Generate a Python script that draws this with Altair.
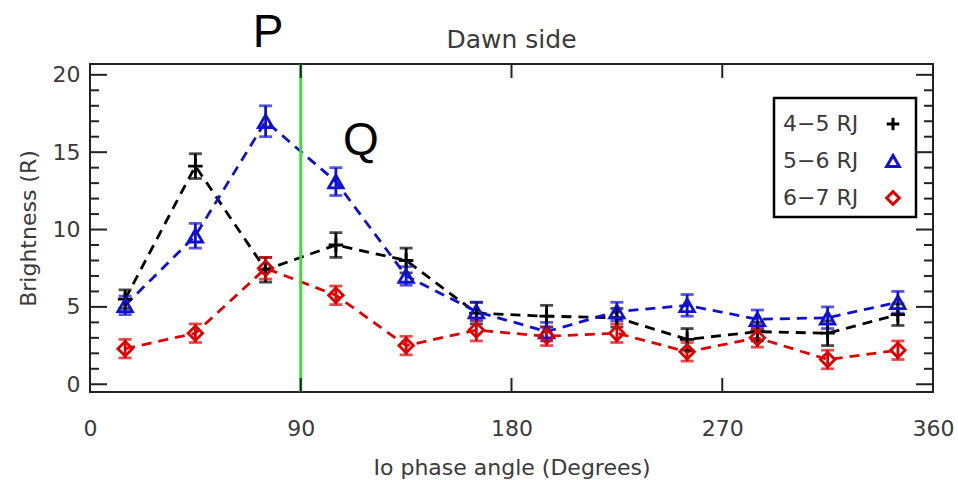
import altair as alt
import pandas as pd

# ---- data ----
angles = [15, 45, 75, 105, 135, 165, 195, 225, 255, 285, 315, 345]
series_names = ["4\u22125 RJ", "5\u22126 RJ", "6\u22127 RJ"]
b_45 = [5.5, 14.1, 7.4, 9.0, 8.0, 4.6, 4.4, 4.3, 2.9, 3.4, 3.3, 4.5]
e_45 = [0.6, 0.8, 0.8, 0.8, 0.8, 0.7, 0.7, 0.6, 0.7, 0.6, 0.8, 0.7]
b_56 = [5.1, 9.6, 17.0, 13.1, 7.0, 4.7, 3.4, 4.7, 5.1, 4.2, 4.3, 5.3]
e_56 = [0.6, 0.8, 1.0, 0.9, 0.6, 0.6, 0.6, 0.6, 0.7, 0.6, 0.7, 0.7]
b_67 = [2.3, 3.3, 7.5, 5.75, 2.5, 3.5, 3.1, 3.3, 2.1, 3.0, 1.6, 2.2]
e_67 = [0.6, 0.6, 0.7, 0.6, 0.6, 0.7, 0.6, 0.6, 0.6, 0.6, 0.6, 0.6]
x_ticks = [0, 90, 180, 270, 360]
y_ticks = [0, 5, 10, 15, 20]
y_minor = [v for v in range(0, 21) if v % 5 != 0]
x_inner_ticks = [90, 180, 270]
green_line_x = [90]

colors = ["#000000", "#1010d0", "#e00000"]
shapes = ["M-1,0H1M0,-1V1", "triangle-up", "diamond"]

rows = []
for name, vals, errs in zip(series_names, [b_45, b_56, b_67], [e_45, e_56, e_67]):
    for a, v, e in zip(angles, vals, errs):
        rows.append({"series": name, "angle": a, "value": v, "lo": v - e, "hi": v + e})
df = pd.DataFrame(rows)
caps = pd.concat([
    df[["series", "angle", "lo"]].rename(columns={"lo": "value"}),
    df[["series", "angle", "hi"]].rename(columns={"hi": "value"}),
])

W, H = 843, 328
FONT = "DejaVu Sans"
TXT = "#3a3a3a"

xscale = alt.Scale(domain=[0, 360], nice=False, zero=False)
yscale = alt.Scale(domain=[-0.5, 20.7], nice=False, zero=False)
cscale = alt.Scale(domain=series_names, range=colors)
sscale = alt.Scale(domain=series_names, range=shapes)

xaxis = alt.Axis(values=x_ticks, ticks=False, domain=False, grid=False, labelPadding=26,
                 labelFontSize=22, labelFont=FONT, labelColor=TXT, labelFlush=False,
                 title="Io phase angle (Degrees)", titleFont=FONT, titleFontSize=22,
                 titleFontWeight="normal", titleColor=TXT, titleX=W / 2, titleY=82,
                 titleBaseline="alphabetic", titleAnchor="middle")
yaxis = alt.Axis(values=y_ticks, ticks=False, domain=False, grid=False, labelPadding=10,
                 labelFontSize=22, labelFont=FONT, labelColor=TXT, labelFlush=False,
                 title="Brightness (R)", titleFont=FONT, titleFontSize=22,
                 titleFontWeight="normal", titleColor=TXT, titleX=-55, titleY=H / 2,
                 titleAngle=-90, titleBaseline="alphabetic", titleAlign="center")

def X(field):
    return alt.X(field, scale=xscale, axis=xaxis)

def Y(field):
    return alt.Y(field, scale=yscale, axis=yaxis)

base = alt.Chart(df)

lines = base.mark_line(strokeDash=[10, 7], strokeWidth=2.8).encode(
    x=X("angle:Q"), y=Y("value:Q"),
    color=alt.Color("series:N", scale=cscale, legend=None),
    detail="series:N",
)

bars = base.mark_rule(strokeWidth=2.8).encode(
    x=X("angle:Q"), y=Y("lo:Q"), y2="hi:Q",
    color=alt.Color("series:N", scale=cscale, legend=None),
)

cap_marks = alt.Chart(caps).mark_tick(orient="horizontal", size=13, thickness=2.8).encode(
    x=X("angle:Q"), y=Y("value:Q"),
    color=alt.Color("series:N", scale=cscale, legend=None),
)

points = base.mark_point(filled=False, strokeWidth=2.8, size=210, opacity=1).encode(
    x=X("angle:Q"), y=Y("value:Q"),
    color=alt.Color("series:N", scale=cscale, legend=None),
    shape=alt.Shape("series:N", scale=sscale, legend=None),
)

green = alt.Chart(pd.DataFrame({"x": green_line_x})).mark_rule(
    color="#3ddc3d", strokeWidth=3
).encode(x=X("x:Q"))

# frame ticks (inward)
ymaj = pd.DataFrame({"v": y_ticks})
ymin = pd.DataFrame({"v": y_minor})
xin = pd.DataFrame({"v": x_inner_ticks})
tick_style = dict(color="#222222", strokeWidth=2)
ticks = [
    alt.Chart(ymaj).mark_rule(**tick_style).encode(y=Y("v:Q"), x=alt.value(0), x2=alt.value(17)),
    alt.Chart(ymin).mark_rule(**tick_style).encode(y=Y("v:Q"), x=alt.value(0), x2=alt.value(9)),
    alt.Chart(ymaj).mark_rule(**tick_style).encode(y=Y("v:Q"), x=alt.value(W - 17), x2=alt.value(W)),
    alt.Chart(ymin).mark_rule(**tick_style).encode(y=Y("v:Q"), x=alt.value(W - 9), x2=alt.value(W)),
    alt.Chart(xin).mark_rule(**tick_style).encode(x=X("v:Q"), y=alt.value(H - 14), y2=alt.value(H)),
    alt.Chart(xin).mark_rule(**tick_style).encode(x=X("v:Q"), y=alt.value(0), y2=alt.value(14)),
]

one = pd.DataFrame({"k": [0]})
title = alt.Chart(one).mark_text(font=FONT, fontSize=25, color=TXT, align="center",
                                 baseline="alphabetic").encode(
    x=alt.value(W / 2), y=alt.value(-16), text=alt.value("Dawn side"))
p_lab = alt.Chart(one).mark_text(font="Liberation Sans", fontSize=46, color="#000000",
                                 align="center", baseline="alphabetic").encode(
    x=alt.value(178), y=alt.value(-17), text=alt.value("P"))
q_lab = alt.Chart(one).mark_text(font="Liberation Sans", fontSize=46, color="#000000",
                                 align="center", baseline="alphabetic").encode(
    x=alt.value(271), y=alt.value(91), text=alt.value("Q"))

# legend box (symbols to the right of the labels, as in the reference)
legend_layers = [
    alt.Chart(one).mark_rect(fill="white", stroke="#000000", strokeWidth=2.5).encode(
        x=alt.value(684), x2=alt.value(826), y=alt.value(34), y2=alt.value(153))
]
for i, (name, col, shp) in enumerate(zip(series_names, colors, shapes)):
    yy = 60 + i * 37
    legend_layers.append(
        alt.Chart(one).mark_text(font=FONT, fontSize=22, color=TXT, align="left",
                                 baseline="middle").encode(
            x=alt.value(693), y=alt.value(yy), text=alt.value(name)))
    legend_layers.append(
        alt.Chart(one).mark_point(filled=False, strokeWidth=3, size=160, opacity=1).encode(
            x=alt.value(803), y=alt.value(yy), color=alt.value(col), shape=alt.value(shp)))

chart = alt.layer(
    lines, green, bars, cap_marks, points, *ticks, title, p_lab, q_lab, *legend_layers
).properties(
    width=W, height=H,
    autosize=alt.AutoSizeParams(type="none"),
    padding={"left": 90, "top": 64, "right": 25, "bottom": 88},
    background="white",
).configure_view(stroke="#222222", strokeWidth=2)

chart.save("out.html", embed_options={"renderer": "svg", "actions": False})
